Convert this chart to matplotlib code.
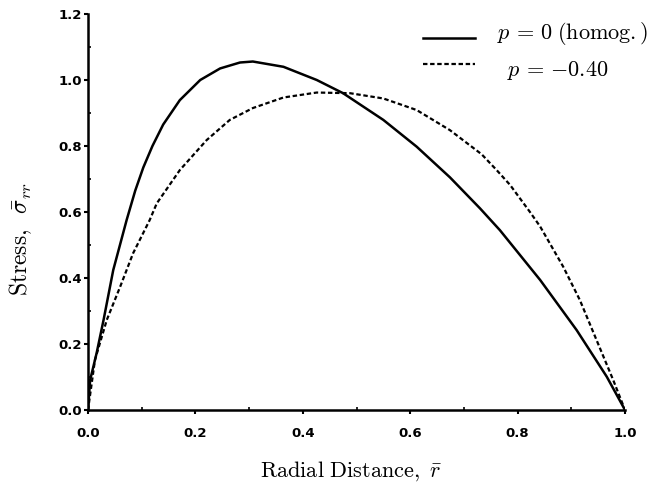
import matplotlib
matplotlib.use("Agg")
import matplotlib.pyplot as plt
from matplotlib.ticker import MultipleLocator

plt.rcParams['mathtext.fontset'] = 'cm'

# Data
r_homog = [0.0, 0.004, 0.016, 0.029, 0.047, 0.072, 0.088, 0.103, 0.120, 0.140, 0.171, 0.209,
           0.246, 0.283, 0.307, 0.364, 0.426, 0.475, 0.550, 0.612, 0.674,
           0.730, 0.767, 0.842, 0.910, 0.966, 1.0]
s_homog = [0.0, 0.091, 0.172, 0.273, 0.424, 0.576, 0.665, 0.735, 0.80, 0.865, 0.939, 1.0,
           1.035, 1.053, 1.056, 1.040, 1.0, 0.960, 0.879, 0.798, 0.705,
           0.611, 0.545, 0.394, 0.242, 0.101, 0.0]

r_p040 = [0.0, 0.013, 0.035, 0.060, 0.084, 0.115, 0.128, 0.171, 0.221, 0.264,
          0.307, 0.364, 0.426, 0.488, 0.550, 0.612, 0.674, 0.733, 0.761, 0.786,
          0.823, 0.842, 0.885, 0.916, 0.947, 0.978, 1.0]
s_p040 = [0.0, 0.152, 0.273, 0.374, 0.475, 0.576, 0.626, 0.727, 0.818, 0.879,
          0.915, 0.947, 0.962, 0.960, 0.944, 0.909, 0.848, 0.775, 0.727, 0.682,
          0.600, 0.556, 0.434, 0.333, 0.212, 0.091, 0.0]

labels = [r'$p\,=\,0\;\mathrm{(homog.)}$', r'$p\,=\,{-}0.40$']
xlabel = r'$\mathrm{Radial\ Distance,}\ \bar{r}$'
ylabel = r'$\mathrm{Stress,}\;\;\bar{\sigma}_{rr}$'

W, H = 654, 487
fig = plt.figure(figsize=(6.54, 4.87), dpi=100)
ax = fig.add_axes([88/W, 1-410/H, (625-88)/W, (410-14)/H])

l1, = ax.plot(r_homog, s_homog, color='black', lw=1.8)
l2, = ax.plot(r_p040, s_p040, color='black', lw=1.6, linestyle=(0, (2.0, 1.2)))

ax.set_xlim(0, 1.0)
ax.set_ylim(0, 1.2)
ax.xaxis.set_major_locator(MultipleLocator(0.2))
ax.yaxis.set_major_locator(MultipleLocator(0.2))
ax.xaxis.set_minor_locator(MultipleLocator(0.1))
ax.yaxis.set_minor_locator(MultipleLocator(0.1))
ax.tick_params(which='major', direction='out', length=3, width=1.5)
ax.tick_params(axis='x', which='major', pad=9)
ax.tick_params(axis='y', which='major', pad=1.5)
ax.tick_params(which='minor', direction='in', length=2.5, width=1.2)
ax.set_xticklabels([f'{v:.1f}' for v in ax.get_xticks()], fontweight='bold',
                   family='DejaVu Sans', fontsize=9.5)
ax.set_yticklabels([f'{v:.1f}' for v in ax.get_yticks()], fontweight='bold',
                   family='DejaVu Sans', fontsize=9.5)

for s in ['top', 'right']:
    ax.spines[s].set_visible(False)
for s in ['left', 'bottom']:
    ax.spines[s].set_linewidth(1.8)

ax.set_xlabel(xlabel, fontsize=16)
ax.xaxis.set_label_coords((351.5-88)/537, (410-459)/396, transform=ax.transAxes)
ax.set_ylabel(ylabel, fontsize=17)
ax.yaxis.set_label_coords((34-88)/537, (410-239)/396, transform=ax.transAxes)

# legend keys (handles) plus label texts
fs = 14
leg = ax.legend([l1, l2], ['', ''], loc='upper left',
                bbox_to_anchor=(423/W, 1-30.2/H), bbox_transform=fig.transFigure,
                frameon=False, fontsize=fs, handlelength=52/(fs*100/72),
                handleheight=0.7, labelspacing=(20-0.7*fs*100/72)/(fs*100/72),
                borderpad=0, borderaxespad=0, handletextpad=0)
fig.text(497/W, 1-39/H, labels[0], fontsize=16, va='baseline', ha='left')
fig.text(507/W, 1-76/H, labels[1], fontsize=16, va='baseline', ha='left')

fig.savefig('out.png', dpi=100)
